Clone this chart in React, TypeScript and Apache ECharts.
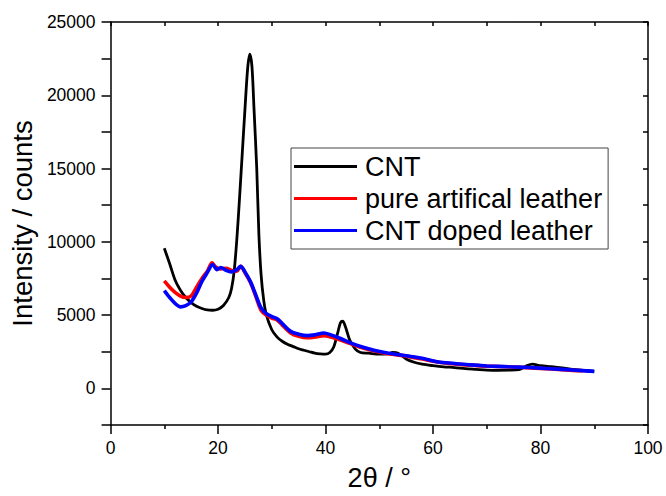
import React, { useEffect, useRef } from "react";
import * as echarts from "echarts";

const FONT = "'Liberation Sans', Arial, sans-serif";

const seriesNames = ["CNT", "pure artifical leather", "CNT doped leather"];
const seriesColors = ["#000000", "#ff0000", "#0000ff"];

const cntX = [10, 11, 12, 13, 14, 15, 16, 17, 18, 19, 20, 21, 22, 22.5, 23, 23.5, 24, 24.5, 25, 25.5, 25.9, 26.3, 26.7, 27.2, 27.6, 28, 28.5, 29, 30, 31, 32, 33, 34, 35, 36, 37, 38, 39, 40, 40.8, 41.5, 42.2, 42.8, 43.2, 43.7, 44.5, 45.5, 46.5, 48, 50, 51.5, 52.5, 53.5, 55, 56.5, 58, 60, 62, 64, 66, 68, 70, 72, 74, 76, 77.5, 78.5, 80, 82, 84, 86, 88, 90];
const cntY = [9560, 8500, 7400, 6700, 6200, 5850, 5600, 5450, 5350, 5330, 5400, 5650, 6200, 6800, 8000, 10200, 13000, 16000, 19000, 21800, 22800, 22000, 19000, 15000, 10500, 7800, 6000, 5000, 4000, 3500, 3200, 3000, 2850, 2700, 2600, 2500, 2400, 2350, 2330, 2450, 2800, 3700, 4500, 4580, 4200, 3300, 2700, 2450, 2400, 2330, 2350, 2450, 2400, 2000, 1780, 1650, 1550, 1470, 1420, 1350, 1300, 1250, 1230, 1240, 1280, 1550, 1650, 1550, 1480, 1400, 1300, 1220, 1160];

const pureX = [10, 11, 12, 13, 14, 15, 16, 17, 18, 18.9, 19.5, 20.5, 21.5, 22.5, 23.5, 24.2, 25, 26, 27, 28, 29, 30, 31, 32, 33.5, 35, 36.6, 38, 39.7, 41, 42.8, 45, 47, 48.9, 51, 53, 55, 58, 60, 63, 66, 70, 74, 78, 82, 86, 88];
const pureY = [7330, 6900, 6550, 6300, 6200, 6300, 6900, 7500, 8000, 8560, 8300, 8150, 8200, 8050, 8000, 8330, 7900, 7250, 6300, 5330, 5000, 4800, 4670, 4300, 3780, 3550, 3450, 3500, 3600, 3500, 3290, 3000, 2750, 2560, 2400, 2300, 2200, 2000, 1850, 1700, 1600, 1520, 1470, 1400, 1320, 1230, 1200];

const dopedX = [10, 11, 12, 13, 14, 15, 16, 17, 18, 19, 19.8, 20.5, 21.5, 22.5, 23.5, 24.2, 25, 26, 27, 28, 29, 30, 31, 32, 33.5, 35, 36.6, 38, 39.7, 41, 42.8, 45, 47, 49, 51, 53, 55, 58, 61, 64, 67, 70, 74, 78, 82, 86, 90];
const dopedY = [6670, 6200, 5800, 5560, 5650, 5900, 6500, 7300, 7900, 8450, 8100, 8250, 8050, 7950, 8100, 8330, 7950, 7300, 6400, 5500, 5100, 4900, 4750, 4400, 3890, 3700, 3600, 3650, 3780, 3650, 3400, 3050, 2800, 2600, 2450, 2330, 2220, 2050, 1800, 1700, 1600, 1530, 1470, 1420, 1340, 1250, 1160];

const xMin = 0, xMax = 100, xInterval = 20;
const yMin = -2500, yMax = 25000, yInterval = 5000;
const yTickValues = [0, 5000, 10000, 15000, 20000, 25000];

const zip = (xs: number[], ys: number[]) => xs.map((x, i) => [x, ys[i]]);

export default function App() {
  const ref = useRef<HTMLDivElement>(null);
  useEffect(() => {
    if (!ref.current) return;
    const chart = echarts.init(ref.current, null, { renderer: "svg" });
    const axisLine = { show: true, onZero: false, lineStyle: { color: "#000", width: 1.5 } };
    const datasets = [zip(cntX, cntY), zip(pureX, pureY), zip(dopedX, dopedY)];
    chart.setOption({
      animation: false,
      backgroundColor: "#fff",
      textStyle: { fontFamily: FONT },
      grid: { left: 110, right: 18, top: 22, bottom: 62, containLabel: false },
      legend: {
        show: true,
        orient: "vertical",
        left: 291,
        top: 148,
        padding: [5, 6, 5, 3],
        borderColor: "#444",
        borderWidth: 1,
        itemWidth: 63,
        itemHeight: 3,
        itemGap: 5,
        icon: "rect",
        data: seriesNames,
        textStyle: { fontFamily: FONT, fontSize: 27, color: "#000", lineHeight: 27, padding: [0, 0, 0, 3] },
      },
      xAxis: [
        {
          type: "value", min: xMin, max: xMax, interval: xInterval, position: "bottom",
          name: "2θ / °", nameLocation: "middle", nameGap: 39,
          nameTextStyle: { fontFamily: FONT, fontSize: 27, color: "#000" },
          axisLine,
          axisTick: { show: true, inside: false, length: 9, lineStyle: { color: "#000", width: 1.5 } },
          minorTick: { show: true, splitNumber: 2, length: 4, lineStyle: { color: "#000", width: 1.5 } },
          axisLabel: { show: true, margin: 14, fontSize: 17.5, color: "#000", fontFamily: FONT },
          splitLine: { show: false },
        },
        {
          type: "value", min: xMin, max: xMax, interval: xInterval, position: "top",
          axisLine,
          axisTick: { show: true, inside: true, length: 4, lineStyle: { color: "#000", width: 1.5 } },
          minorTick: { show: true, splitNumber: 2, length: 4, lineStyle: { color: "#000", width: 1.5 } },
          axisLabel: { show: false },
          splitLine: { show: false },
        },
      ],
      yAxis: [
        {
          type: "value", min: yMin, max: yMax, interval: yInterval / 2, position: "left",
          name: "Intensity / counts", nameLocation: "middle", nameGap: 70,
          nameTextStyle: { fontFamily: FONT, fontSize: 27.5, color: "#000" },
          axisLine,
          axisTick: { show: true, inside: false, length: 9, lineStyle: { color: "#000", width: 1.5 } },
          axisLabel: {
            show: true, margin: 15, fontSize: 17.5, color: "#000", fontFamily: FONT,
            formatter: (v: number) => (yTickValues.indexOf(v) >= 0 ? String(v) : ""),
          },
          splitLine: { show: false },
        },
        {
          type: "value", min: yMin, max: yMax, interval: yInterval / 2, position: "right",
          axisLine,
          axisTick: { show: true, inside: true, length: 5, lineStyle: { color: "#000", width: 1.5 } },
          axisLabel: { show: false },
          splitLine: { show: false },
        },
      ],
      series: seriesNames.map((name, i) => ({
        name, type: "line", xAxisIndex: 0, yAxisIndex: 0, data: datasets[i],
        showSymbol: false, symbol: "none", smooth: 0.3, color: seriesColors[i],
        lineStyle: { color: seriesColors[i], width: i === 0 ? 2.8 : 3.6 },
        z: 2 + i,
      })),
    });
    return () => chart.dispose();
  }, []);
  return <div ref={ref} style={{ position: "fixed", left: 0, top: 0, width: 666, height: 496 }} />;
}
